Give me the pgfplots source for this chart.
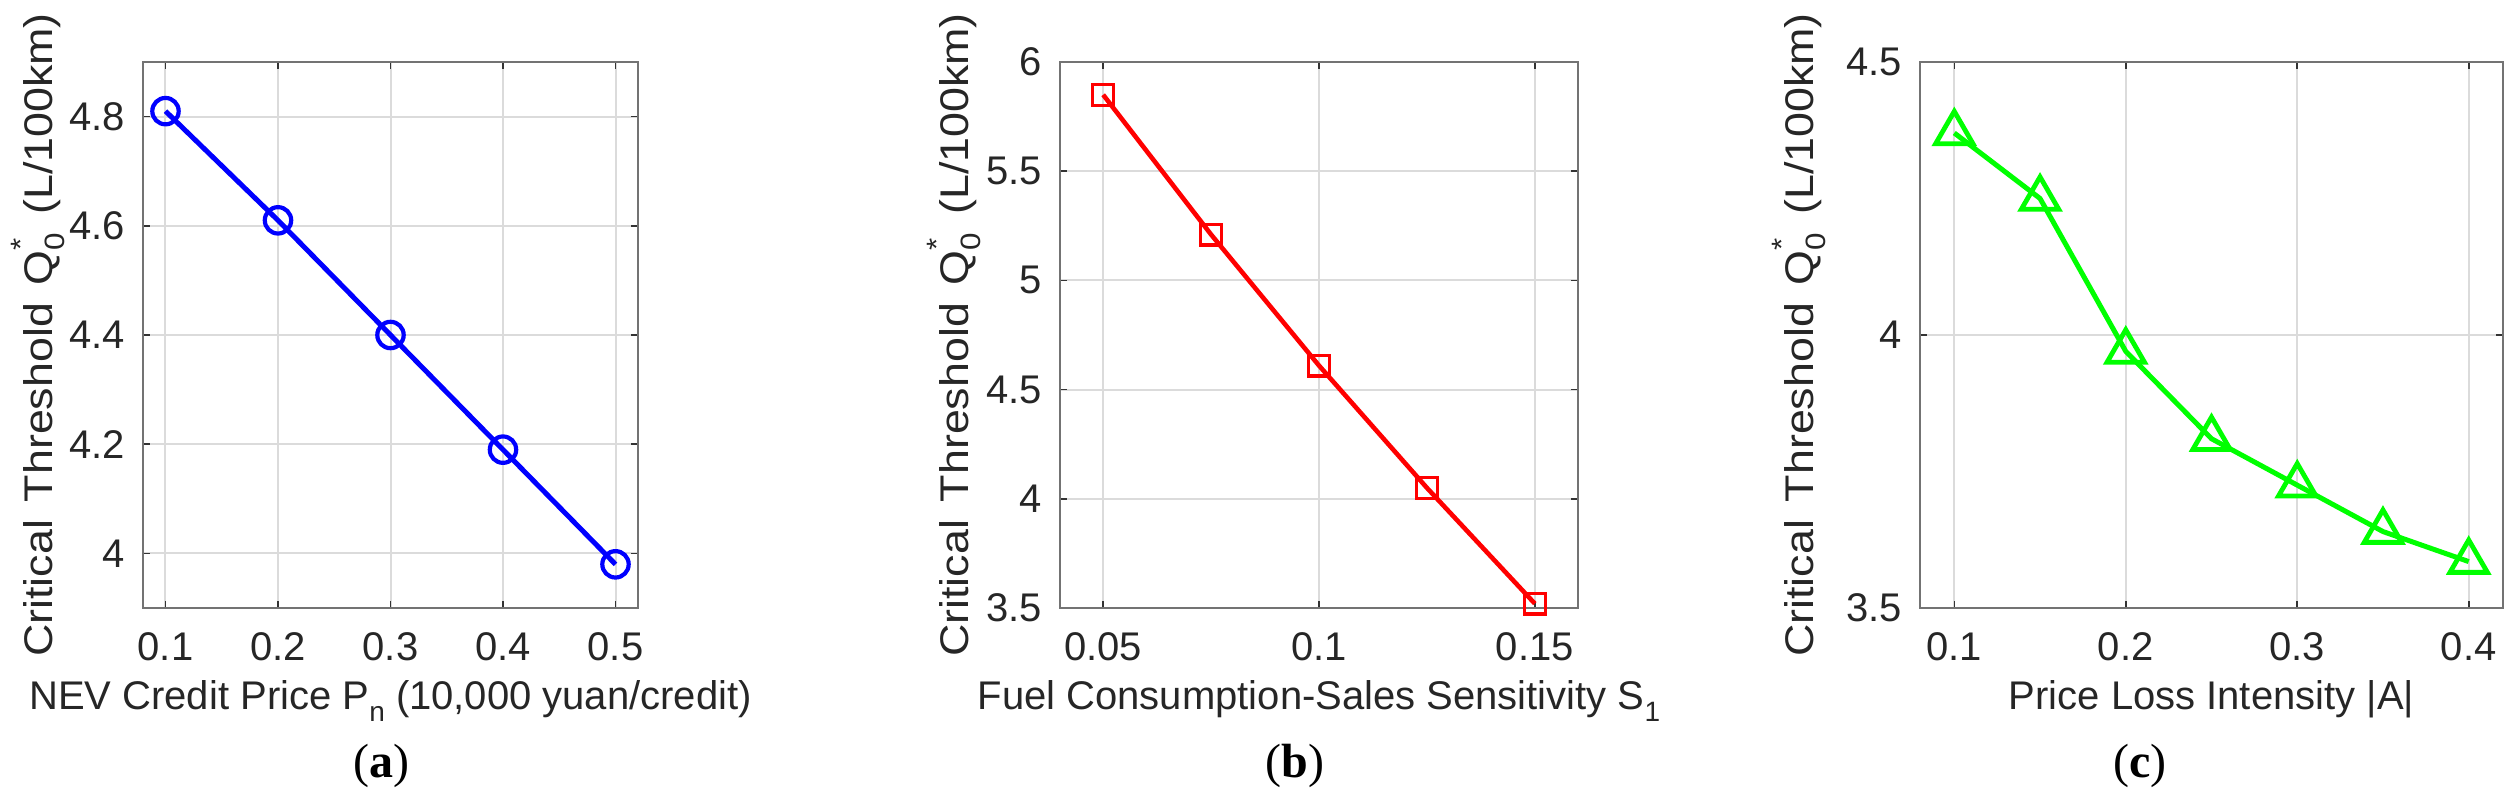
\documentclass[border=0pt]{standalone}
\usepackage{graphicx}
\usepackage{pgfplots}
\pgfplotsset{compat=1.18}
\usepackage{fontspec}
\setmainfont{Liberation Sans}
\newfontfamily\capfont{Liberation Serif}
\definecolor{txt}{gray}{0.15}
\newcommand{\sfs}{\fontsize{10}{12}\selectfont}
\newcommand{\subf}{\fontsize{7}{8}\selectfont}
\newcommand{\gap}{\hspace{0.4em}}
\newcommand{\Qlab}{\scalebox{1.12}[1]{Critical\gap Threshold\gap Q\rlap{\raisebox{0.55em}{\subf *}}\raisebox{-0.3em}{\subf 0}\gap (L/100km)}}
\pgfplotsset{
 mystyle/.style={
  scale only axis, anchor=south west,
  height=136.5pt,
  tick align=inside, major tick length=1.75pt,
  tick pos=both,
  grid=major, major grid style={draw=black!14, line width=0.5pt},
  axis line style={draw=black!55, line width=0.6pt},
  tick style={draw=black!80, line width=0.4pt},
  /pgf/number format/assume math mode=true,
  tick label style={font=\sfs, text=txt},
  label style={font=\sfs, text=txt},
  xticklabel style={yshift=-2.5pt},
  yticklabel style={xshift=-1pt},
  xlabel style={at={(axis description cs:0.5,-0.1868)}, anchor=base},
  clip=false,
 }
}
\begin{document}
\begin{tikzpicture}
\useasboundingbox (0,0) rectangle (629.5pt,200.75pt);
% (a)
\begin{axis}[mystyle, at={(35.75pt,48.75pt)}, width=123.75pt,
  xmin=0.08, xmax=0.52, ymin=3.9, ymax=4.9,
  xtick={0.1,0.2,0.3,0.4,0.5}, xticklabels={0.1,0.2,0.3,0.4,0.5},
  ytick={4,4.2,4.4,4.6,4.8}, yticklabels={4,4.2,4.4,4.6,4.8},
  ylabel style={at={(axis description cs:-0.1838,0.5)}, anchor=base},
  xlabel={NEV Credit Price P\raisebox{-0.3em}{\subf n} (10,000 yuan/credit)},
  ylabel={\Qlab}]
\addplot[blue, line width=1.25pt, mark=o, mark size=3.3pt, mark options={line width=1.05pt}]
  coordinates {(0.1,4.81)(0.2,4.61)(0.3,4.40)(0.4,4.19)(0.5,3.98)};
\node[anchor=base, font=\capfont\fontsize{12}{14}\selectfont, text=black] at (axis description cs:0.481,-0.311) {(\textbf{a})};
\end{axis}
% (b)
\begin{axis}[mystyle, at={(265pt,48.75pt)}, width=129.5pt,
  xmin=0.04, xmax=0.16, ymin=3.5, ymax=6,
  xtick={0.05,0.1,0.15}, xticklabels={0.05,0.1,0.15},
  ytick={3.5,4,4.5,5,5.5,6}, yticklabels={3.5,4,4.5,5,5.5,6},
  ylabel style={at={(axis description cs:-0.1776,0.5)}, anchor=base},
  xlabel={Fuel Consumption-Sales Sensitivity S\raisebox{-0.3em}{\subf 1}},
  ylabel={\Qlab}]
\addplot[red, line width=1.15pt, mark=square, mark size=2.6pt, mark options={line width=0.8pt}]
  coordinates {(0.05,5.85)(0.075,5.21)(0.1,4.61)(0.125,4.05)(0.15,3.52)};
\node[anchor=base, font=\capfont\fontsize{12}{14}\selectfont, text=black] at (axis description cs:0.454,-0.311) {(\textbf{b})};
\end{axis}
% (c)
\begin{axis}[mystyle, at={(480pt,48.75pt)}, width=145.75pt,
  xmin=0.08, xmax=0.42, ymin=3.5, ymax=4.5,
  xtick={0.1,0.2,0.3,0.4}, xticklabels={0.1,0.2,0.3,0.4},
  ytick={3.5,4,4.5}, yticklabels={3.5,4,4.5},
  ylabel style={at={(axis description cs:-0.1835,0.5)}, anchor=base},
  xlabel={Price Loss Intensity |A|},
  ylabel={\Qlab}]
\addplot[green, line width=1.25pt, mark=triangle, mark size=5.4pt, mark options={line width=1.2pt}]
  coordinates {(0.1,4.37)(0.15,4.25)(0.2,3.97)(0.25,3.81)(0.3,3.725)(0.35,3.64)(0.4,3.585)};
\node[anchor=base, font=\capfont\fontsize{12}{14}\selectfont, text=black] at (axis description cs:0.377,-0.311) {(\textbf{c})};
\end{axis}
\end{tikzpicture}
\end{document}
